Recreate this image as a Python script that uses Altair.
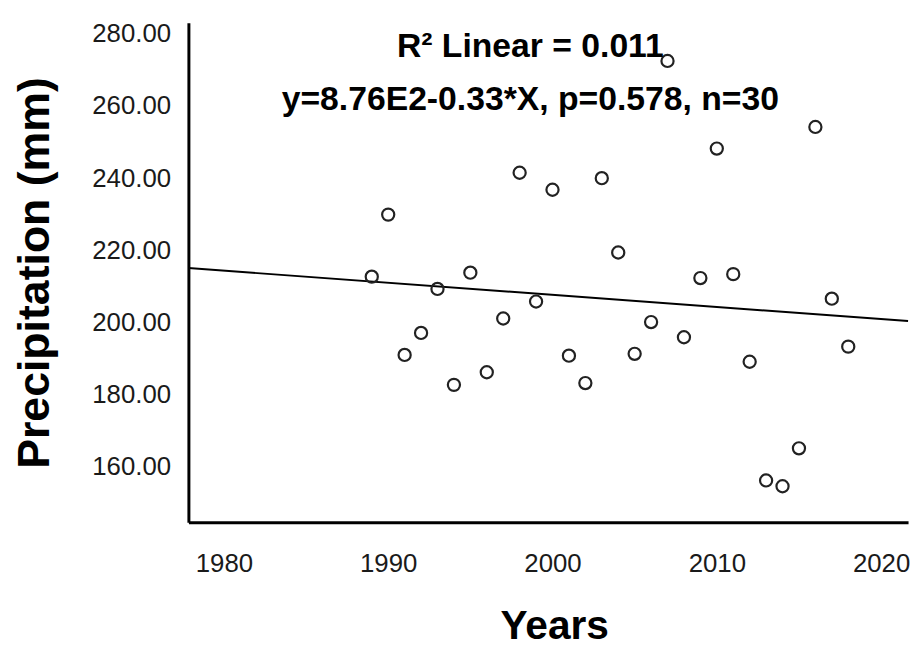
import altair as alt
import pandas as pd

years = list(range(1989, 2019))
precip = [212.7, 229.9, 191.0, 197.1, 209.3, 182.7, 213.8, 186.2, 201.1, 241.5,
          205.8, 236.8, 190.8, 183.2, 240.0, 219.4, 191.3, 200.1, 272.5, 195.9,
          212.3, 248.2, 213.4, 189.1, 156.2, 154.6, 165.1, 254.2, 206.6, 193.3]

x_ticks = [1980, 1990, 2000, 2010, 2020]
y_ticks = [160, 180, 200, 220, 240, 260, 280]
x_domain = [1977.84, 2021.64]
y_domain = [144.6, 283.1]

annot_lines = ["R\u00b2 Linear = 0.011", "y=8.76E2-0.33*X, p=0.578, n=30"]
annot_x = [1998.65, 1998.65]
annot_y = [273.5, 258.9]

df = pd.DataFrame({"year": years, "precip": precip})
ann = pd.DataFrame({"label": annot_lines, "ax": annot_x, "ay": annot_y})

FONT = "Liberation Sans"

xscale = alt.Scale(domain=x_domain, nice=False, zero=False)
yscale = alt.Scale(domain=y_domain, nice=False, zero=False)

xaxis = alt.Axis(values=x_ticks, format="d", title="Years", grid=False, ticks=False,
                 tickSize=0, labelPadding=29, labelFontSize=26, labelFont=FONT,
                 labelColor="#1a1a1a", labelFlush=False, labelOverlap=False,
                 domainColor="black", domainWidth=3,
                 titleFont=FONT, titleFontSize=41, titleFontWeight="bold",
                 titleColor="black", titleBaseline="alphabetic", titleY=117, titleX=369)
yaxis = alt.Axis(values=y_ticks, format=".2f", title="Precipitation (mm)", grid=False,
                 ticks=False, tickSize=0, labelPadding=18, labelFontSize=26,
                 labelFont=FONT, labelColor="#1a1a1a", labelFlush=False,
                 labelOverlap=False, domainColor="black", domainWidth=3,
                 titleFont=FONT, titleFontSize=45, titleFontWeight="bold",
                 titleColor="black", titleAngle=-90, titleAlign="center",
                 titleBaseline="middle", titleX=-155, titleY=252)

points = alt.Chart(df).mark_point(shape="circle", filled=False, size=150,
                                  strokeWidth=2.2, color="#222222", opacity=1).encode(
    x=alt.X("year:Q", scale=xscale, axis=xaxis),
    y=alt.Y("precip:Q", scale=yscale, axis=yaxis),
)

reg = alt.Chart(df).transform_regression(
    "year", "precip", extent=x_domain
).mark_line(color="black", strokeWidth=2).encode(
    x=alt.X("year:Q", scale=xscale),
    y=alt.Y("precip:Q", scale=yscale),
)

text = alt.Chart(ann).mark_text(font=FONT, fontSize=34,
                                fontWeight="bold", color="black", align="center",
                                baseline="alphabetic").encode(
    x=alt.X("ax:Q", scale=xscale),
    y=alt.Y("ay:Q", scale=yscale),
    text="label:N",
)

chart = alt.layer(reg, points, text).properties(
    width=726, height=504,
    autosize=alt.AutoSizeParams(type="none"),
    padding={"left": 182, "top": 12, "right": 6, "bottom": 127},
    background="white",
).configure_view(strokeWidth=0)

chart.save("out.html", embed_options={"renderer": "svg", "actions": False})
